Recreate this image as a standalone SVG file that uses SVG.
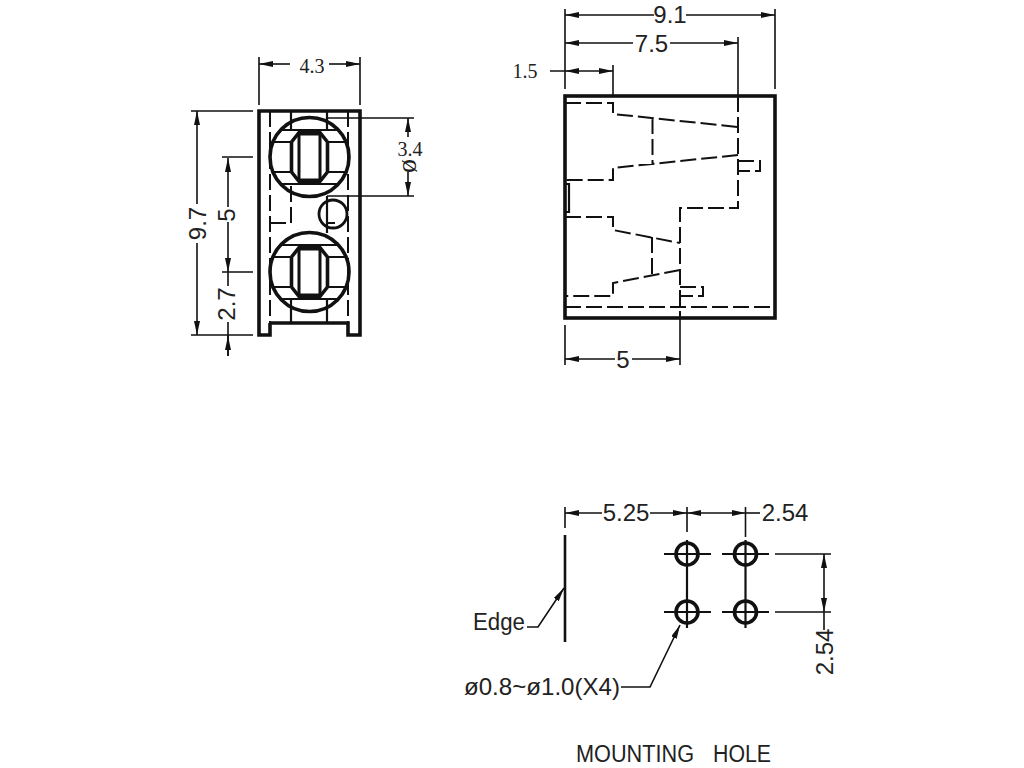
<svg xmlns="http://www.w3.org/2000/svg" width="1024" height="768" viewBox="0 0 1024 768">
<style>
.o{fill:none;stroke:#111;stroke-width:3.6;stroke-linejoin:miter}
.m{fill:none;stroke:#111;stroke-width:2.2}
.h{fill:none;stroke:#111;stroke-width:2;stroke-dasharray:16 5}
.d{fill:none;stroke:#111;stroke-width:1.6}
.a{fill:none;stroke:#111;stroke-width:1.6;marker-start:url(#as);marker-end:url(#ae)}
.e{fill:none;stroke:#111;stroke-width:1.6;marker-end:url(#ae)}
.t{font-family:"Liberation Sans",Arial,sans-serif;font-size:24px;fill:#222}
.s{font-family:"Liberation Serif","Times New Roman",serif;font-size:20px;fill:#222}
.c{text-anchor:middle}
</style>
<defs>
<marker id="ae" markerUnits="userSpaceOnUse" markerWidth="16" markerHeight="8" refX="14" refY="3" orient="auto"><path d="M0 0L14 3L0 6z" fill="#111"/></marker>
<marker id="as" markerUnits="userSpaceOnUse" markerWidth="16" markerHeight="8" refX="0" refY="3" orient="auto"><path d="M14 0L0 3L14 6z" fill="#111"/></marker>
<g id="led">
<circle cx="0" cy="0" r="39.500" class="o"/>
<path class="m" d="M-36-15H-18M18-15H36M-36 15H-18M18 15H36M-30-27H30M-30 27H30"/>
<path class="o" d="M-18-15V15M18-15V15M-18-15L-10-25H10L18-15M-18 15L-10 25H10L18 15"/>
<rect x="-10.500" y="-23" width="21" height="46" class="m" style="stroke-width:3"/>
</g>
</defs>
<g id="front-view">
<path class="o" d="M270 323V335H259V111H360V335H348V323H270"/>
<path class="m" d="M291 111V131M327 111V131M291 300V323M327 300V323M327 196V233M327 223H335"/>
<path class="h" d="M270 111V323M348 111V323M270 223H291V184"/>
<use href="#led" x="309.500" y="157"/>
<use href="#led" x="309.500" y="272"/>
<circle cx="333" cy="214" r="14" class="o" style="stroke-width:2.800"/>
</g>
<g id="side-view">
<rect x="565" y="96" width="210" height="222" class="o"/>
<path class="h" d="M565 103H613V114L738 127M652.500 118V164M738 155L613 168V180H565M738 96V208H680V318M738 161H760V171H738M565 217H613V230L680 243M652 237V275M680 270L613 283V296H565M680 287H703V296H680M565 307H775"/>
<path class="m" d="M565 184H569V212H565"/>
</g>
<g id="hole-pattern">
<circle cx="687" cy="554" r="11" class="o"/>
<circle cx="745.500" cy="554" r="11" class="o"/>
<circle cx="687" cy="612" r="11" class="o"/>
<circle cx="745.500" cy="612" r="11" class="o"/>
<path class="m" d="M687 540V628M745.500 540V628M664 554H711M722 554H769M664 612H711M722 612H769"/>
<path class="o" d="M565 535V642" style="stroke-width:2.600"/>
</g>
<g id="connectors">
<path class="d" d="M259 57V105M360 57V105M191 111H253M191 335H253M222 157H253M222 272H253M327 118H414M327 196H414"/>
<path class="e" d="M290 64H259"/><path class="e" d="M329 64H360"/>
<path class="e" d="M197 204V111"/><path class="e" d="M197 243V335"/>
<path class="e" d="M228 207V158"/>
<path class="e" d="M228 222V272"/>
<path class="d" d="M228 272V286M228 322V356"/>
<path class="e" d="M228 356V336"/>
<path class="e" d="M408 137V118"/><path class="e" d="M408 172V196"/>
<path class="d" d="M565 9V89M775 9V89M738 37V96M613 65V96M550 71H565"/>
<path class="e" d="M654 15H565"/><path class="e" d="M686 15H775"/>
<path class="e" d="M633 43H565"/><path class="e" d="M670 43H738"/>
<path class="a" d="M565 71H613"/>
<path class="d" d="M565 325V365M680 318V365"/>
<path class="e" d="M615 359H565"/><path class="e" d="M632 359H680"/>
<path class="d" d="M565 507V528M687 507V532M745.500 507V537M775 554H831M775 612H831M824 612V630"/>
<path class="e" d="M602 513H565"/><path class="e" d="M650 513H687"/>
<path class="a" d="M687 513H745.500"/>
<path class="d" d="M745.500 513H760"/>
<path class="a" d="M824 554V612"/>
<path class="e" d="M527 627H538L564 588"/>
<path class="e" d="M621 687H650L680 625"/>
</g>
<g id="labels">
<text class="s c" x="312" y="73">4.3</text>
<text class="s c" x="410" y="156">3.4</text>
<text class="s c" style="font-size:28px" transform="translate(416 166) rotate(-90)">ø</text>
<text class="t c" transform="translate(206 223.500) rotate(-90)">9.7</text>
<text class="t c" transform="translate(235 215) rotate(-90)">5</text>
<text class="t c" transform="translate(235 304) rotate(-90)">2.7</text>
<text class="t c" x="670" y="23">9.1</text>
<text class="t c" x="651.500" y="52">7.5</text>
<text class="s c" x="525" y="78">1.5</text>
<text class="t c" x="623" y="368">5</text>
<text class="t c" x="626" y="521">5.25</text>
<text class="t c" x="785" y="521">2.54</text>
<text class="t c" transform="translate(833 652) rotate(-90)">2.54</text>
<text class="t" x="473" y="630" textLength="52" lengthAdjust="spacingAndGlyphs" style="font-size:23px">Edge</text>
<text class="t" x="464" y="695" textLength="156" lengthAdjust="spacingAndGlyphs" style="font-size:24px">ø0.8~ø1.0(X4)</text>
<text class="t" x="576" y="762" textLength="118" lengthAdjust="spacingAndGlyphs" style="font-size:23px">MOUNTING</text>
<text class="t" x="713" y="762" textLength="58" lengthAdjust="spacingAndGlyphs" style="font-size:23px">HOLE</text>
</g>
</svg>
